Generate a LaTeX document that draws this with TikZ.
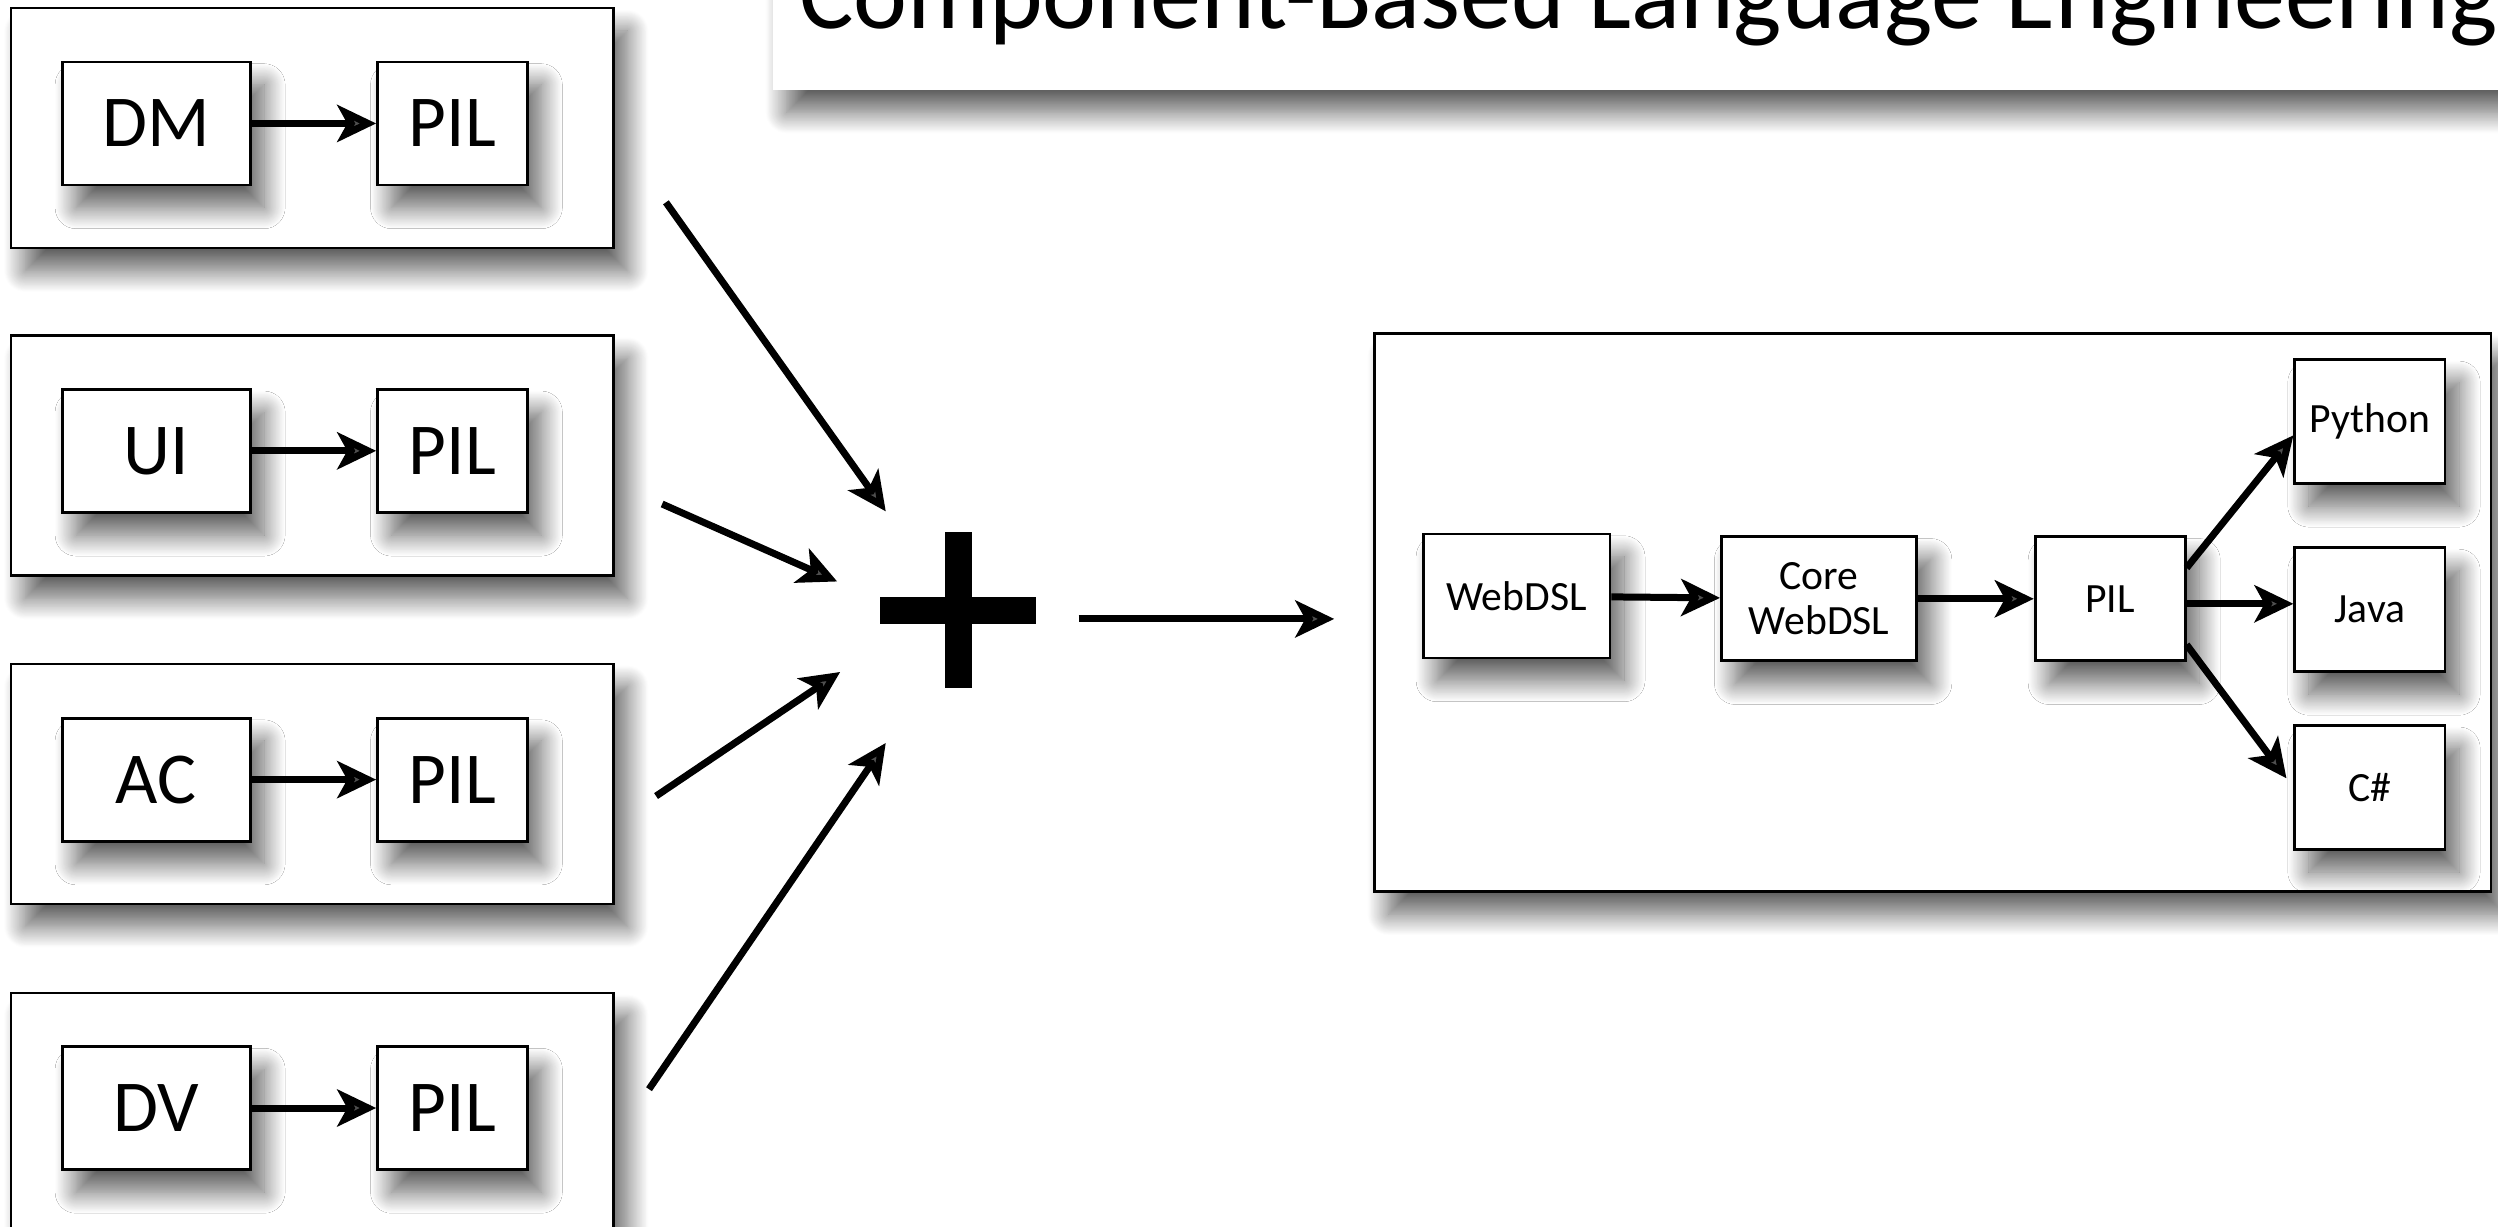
\documentclass[tikz,border=0pt]{standalone}
\usepackage{fontspec}
\setmainfont{Carlito}
\usetikzlibrary{arrows.meta,shadows.blur}

\tikzset{
  softshadow/.style={blur shadow={shadow xshift=4pt,shadow yshift=-6.5pt,shadow blur radius=6pt,shadow blur steps=24,shadow opacity=62}},
  groupbox/.style={draw,line width=0.7pt,fill=white,softshadow,minimum width=6.05cm,minimum height=2.41cm},
  bigbox/.style={draw,line width=0.8pt,fill=white,softshadow,minimum height=1.235cm,inner sep=0pt,font=\fontsize{20.9}{23}\selectfont},
  smallbox/.style={draw,line width=0.8pt,fill=white,softshadow,minimum height=1.245cm,inner sep=0pt,align=center,font=\fontsize{11.9}{12.8}\selectfont},
  arr/.style={line width=2pt,-{Stealth[length=3.9mm,width=3.7mm,inset=1mm]}}
}

\begin{document}
\begin{tikzpicture}
    \useasboundingbox (0,0) rectangle (25.088,12.32);
    \clip (0,0) rectangle (25.088,12.32);
    % title
    \fill[white,softshadow] (7.76,11.42) rectangle (26.5,13.5);
    \node[anchor=base west,inner sep=0pt,font=\fontsize{29.2}{32}\selectfont] (title) at (8.02,12.03) {Component-Based Language Engineering};

    % left column
    \node[groupbox] (dmbox) at (3.136,11.032) {};
    \node[bigbox,minimum width=1.888cm] (dm) at (1.568,11.08) {DM};
    \node[bigbox,minimum width=1.504cm] (dmpil) at (4.544,11.08) {PIL};
    \draw[arr] (dm) -- (dmpil);

    \node[groupbox] (uibox) at (3.136,7.744) {};
    \node[bigbox,minimum width=1.888cm] (ui) at (1.568,7.792) {UI};
    \node[bigbox,minimum width=1.504cm] (uipil) at (4.544,7.792) {PIL};
    \draw[arr] (ui) -- (uipil);

    \node[groupbox] (acbox) at (3.136,4.448) {};
    \node[bigbox,minimum width=1.888cm] (ac) at (1.568,4.49) {AC};
    \node[bigbox,minimum width=1.504cm] (acpil) at (4.544,4.49) {PIL};
    \draw[arr] (ac) -- (acpil);

    \node[groupbox] (dvbox) at (3.136,1.144) {};
    \node[bigbox,minimum width=1.888cm] (dv) at (1.568,1.192) {DV};
    \node[bigbox,minimum width=1.504cm] (dvpil) at (4.544,1.192) {PIL};
    \draw[arr] (dv) -- (dvpil);

    % plus
    \coordinate (plus) at (9.624,6.192);
    \fill (plus) ++(-0.784,-0.136) rectangle ++(1.568,0.272);
    \fill (plus) ++(-0.136,-0.784) rectangle ++(0.272,1.568);

    \coordinate (dmfrom) at (6.688,10.288);
    \coordinate (dmto) at (8.896,7.184);
    \coordinate (uifrom) at (6.65,7.258);
    \coordinate (uito) at (8.408,6.48);
    \coordinate (acfrom) at (6.589,4.325);
    \coordinate (acto) at (8.438,5.571);
    \coordinate (dvfrom) at (6.518,1.381);
    \coordinate (dvto) at (8.896,4.858);
    \draw[arr] (dmfrom) -- (dmto);
    \draw[arr] (uifrom) -- (uito);
    \draw[arr] (acfrom) -- (acto);
    \draw[arr] (dvfrom) -- (dvto);

    \coordinate (sumfrom) at (10.832,6.104);
    \coordinate (sumto) at (13.40,6.104);
    \draw[arr] (sumfrom) -- (sumto);

    % composed language
    \node[groupbox,minimum width=11.21cm,minimum height=5.605cm] (webbox) at (19.41,6.169) {};
    \node[smallbox,minimum width=1.877cm] (webdsl) at (15.231,6.334) {WebDSL};
    \node[smallbox,minimum width=1.962cm] (core) at (18.27,6.306) {Core\\WebDSL};
    \node[smallbox,minimum width=1.506cm] (pil) at (21.193,6.306) {PIL};
    \node[smallbox,minimum width=1.509cm] (python) at (23.802,8.088) {Python};
    \node[smallbox,minimum width=1.509cm] (java) at (23.802,6.199) {Java};
    \node[smallbox,minimum width=1.509cm] (csharp) at (23.802,4.413) {C\#};
    \draw[arr] (webdsl) -- (core);
    \draw[arr] (core) -- (pil);
    \draw[arr] ([yshift=3.1mm]pil.east) -- ([yshift=-1.4mm]python.west);
    \draw[arr] ([yshift=-0.5mm]pil.east) -- ([yshift=-0.5mm]pil.east -| java.west);
    \draw[arr] ([yshift=-4.6mm]pil.east) -- ([xshift=-0.7mm,yshift=0.9mm]csharp.west);
\end{tikzpicture}
\end{document}
